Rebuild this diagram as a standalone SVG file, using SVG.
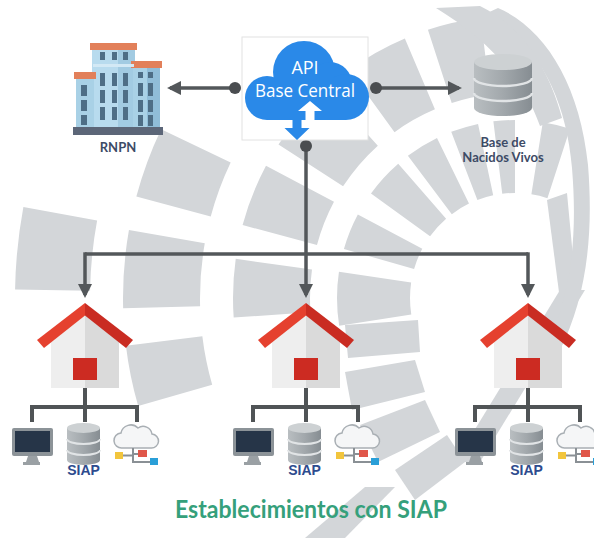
<svg xmlns="http://www.w3.org/2000/svg" xmlns:xlink="http://www.w3.org/1999/xlink" width="594" height="538" viewBox="0 0 594 538">
  <style>
    .bg { fill: #d3d6d9; }
    .ring { fill: none; stroke: #d3d6d9; }
    .link { fill: none; stroke: #53575a; stroke-width: 3.5; }
    .dot { fill: #4a4d50; }
    .branch { fill: none; stroke: #505456; stroke-width: 4; }
    .net { fill: none; stroke: #8a9095; stroke-width: 2; }
    .label { font-family: Lato, 'Open Sans', sans-serif; font-weight: bold; fill: #3d4b66; text-anchor: middle; }
    .siap { font-family: 'Liberation Sans', Arial, sans-serif; font-weight: bold; font-size: 14px; fill: #2d4b8e; text-anchor: middle; }
    .win { fill: #4e6e86; }
    .cap { fill: #e2805a; }
  </style>
  <defs>
    <marker id="arrow" viewBox="0 0 10 10" refX="7.9" refY="5" markerWidth="14" markerHeight="14" markerUnits="userSpaceOnUse" orient="auto">
      <path d="M0,0 L10,5 L0,10 Z" fill="#53575a"/>
    </marker>
    <linearGradient id="drum" x1="0" y1="0" x2="1" y2="0">
      <stop offset="0" stop-color="#b9bec1"/>
      <stop offset="0.5" stop-color="#a2a8ac"/>
      <stop offset="1" stop-color="#868d92"/>
    </linearGradient>

    <!-- one health facility: house, branch lines and its three devices (origin = roof apex) -->
    <g id="facility">
      <polygon points="-34,38 0,10 0,85 -34,85" fill="#eeeeee"/>
      <polygon points="0,10 34,38 34,85 0,85" fill="#dadada"/>
      <polygon points="0,0 -48,37 -41,45 0,12.5" fill="#e5412f"/>
      <polygon points="0,0 48,37 41,45 0,12.5" fill="#c92c22"/>
      <rect x="-12" y="55" width="24" height="22" fill="#cc2b22"/>
      <path class="branch" d="M0,85 V119 M-53,119 V104 H52 V119"/>
      <!-- monitor -->
      <rect x="-73" y="125" width="41" height="28" rx="2" fill="#8c9398"/>
      <rect x="-70" y="128" width="35" height="21" fill="#263548"/>
      <polygon points="-57,153 -48,153 -46,159 -59,159" fill="#9aa0a4"/>
      <rect x="-62" y="159" width="17" height="3" fill="#9aa0a4"/>
      <!-- database -->
      <path d="M-18,125 V157 A16.5,5 0 0 0 15,157 V125 Z" fill="url(#drum)"/>
      <ellipse cx="-1.5" cy="125" rx="16.5" ry="5" fill="#cdd1d3"/>
      <path d="M-18,136 A16.5,5 0 0 0 15,136 M-18,147 A16.5,5 0 0 0 15,147" fill="none" stroke="#e1e4e6" stroke-width="2"/>
      <text class="siap" x="-1.5" y="172">SIAP</text>
      <!-- cloud service -->
      <path d="M37,145 H66 A7,7 0 0 0 67,131 A9,9 0 0 0 53,125 A10,10 0 0 0 36,130 A7.5,7.5 0 0 0 37,145 Z" fill="#f5f6f7" stroke="#a9afb4" stroke-width="1.5"/>
      <path class="net" d="M48,145 V159 H66 M48,152.5 H37 M48,151 H54"/>
      <rect x="30" y="149" width="8" height="7" fill="#f2c53d"/>
      <rect x="53" y="147" width="9" height="7" fill="#e0574a"/>
      <rect x="65" y="155" width="8" height="7" fill="#2a9fd8"/>
    </g>
  </defs>

  <rect width="594" height="538" fill="#ffffff"/>

  <!-- decorative sunburst in the background -->
  <g id="backdrop">
    <circle class="ring" cx="515" cy="298" r="141.5" stroke-width="73" pathLength="360" stroke-dasharray="0 171 17.5 7.5 12 8 13 4 11 5 9 5 7 9 9 72"/>
    <circle class="ring" cx="515" cy="298" r="243.5" stroke-width="77" pathLength="360" stroke-dasharray="0 176 12 7 13 5 15 6 13 5 11 97"/>
    <circle class="ring" cx="515" cy="298" r="353.5" stroke-width="77" pathLength="360" stroke-dasharray="0 164 9 5.5 11.5 5 10.5 154.5"/>
    <circle class="ring" cx="515" cy="298" r="462.5" stroke-width="75" pathLength="360" stroke-dasharray="0 181 9.5 169.5"/>
    <polygon class="bg" points="345,325 418,320 420,352 348,358"/>
    <polygon class="bg" points="345,372 415,360 425,392 352,410"/>
    <polygon class="bg" points="360,425 425,400 440,432 378,462"/>
    <polygon class="bg" points="395,470 447,435 465,462 415,500"/>
    <polygon class="bg" points="365,487 395,487 345,538 305,538"/>
    <polygon class="bg" points="547,200 567,193 577,300 560,300"/>
    <polygon class="bg" points="560,290 585,290 480,462 455,462"/>
    <path class="bg" d="M498,8 C545,28 580,85 588,165 C594,240 585,300 560,350 L548,343 C570,295 578,240 572,168 C566,95 535,40 485,14 Z"/>
    <path class="bg" d="M436,8 L480,6 C520,25 548,65 562,118 L540,126 C522,75 485,38 436,8 Z"/>
  </g>

  <!-- links between the central API and the other nodes -->
  <g id="connectors">
    <path class="link" d="M235,88 H170" marker-end="url(#arrow)"/>
    <path class="link" d="M376,88 H459" marker-end="url(#arrow)"/>
    <path class="link" d="M306,146 V254"/>
    <path class="link" d="M85,254 H528"/>
    <path class="link" d="M85,252.3 V295" marker-end="url(#arrow)"/>
    <path class="link" d="M306,254 V295" marker-end="url(#arrow)"/>
    <path class="link" d="M528,252.3 V295" marker-end="url(#arrow)"/>
    <circle class="dot" cx="235" cy="88" r="6"/>
    <circle class="dot" cx="376" cy="88" r="6"/>
    <circle class="dot" cx="306" cy="146" r="6"/>
  </g>

  <g id="api">
    <rect x="242" y="37" width="126" height="103" fill="#ffffff" stroke="#e2e2e2" stroke-width="1"/>
    <g fill="#2a89e8">
      <circle cx="267" cy="98" r="22"/>
      <circle cx="304" cy="72" r="31"/>
      <circle cx="330" cy="84" r="22"/>
      <circle cx="346" cy="97" r="23"/>
      <rect x="267" y="82" width="79" height="38"/>
    </g>
    <text x="305" y="74" font-family="'Open Sans', Lato, sans-serif" font-size="18" fill="#ffffff" text-anchor="middle">API</text>
    <text x="305" y="97" font-family="'Open Sans', Lato, sans-serif" font-size="17.5" fill="#ffffff" text-anchor="middle" textLength="100" lengthAdjust="spacingAndGlyphs">Base Central</text>
    <!-- sync arrows -->
    <path d="M310,101 L322,111 L314.5,111 L314.5,121 L305.5,121 L305.5,111 L298,111 Z" fill="#ffffff"/>
    <path d="M292.5,120 H301.5 V128 H309.5 L297,140 L284.5,128 H292.5 Z" fill="#2a89e8"/>
  </g>

  <g id="rnpn">
    <rect x="92" y="49" width="43" height="79" fill="#b8dbee"/>
    <rect x="118" y="49" width="17" height="79" fill="#a2cbe2"/>
    <rect x="76" y="78" width="18" height="50" fill="#a9d1e6"/>
    <rect x="133" y="66" width="27" height="62" fill="#a9d1e6"/>
    <rect x="147" y="66" width="13" height="62" fill="#90bdd8"/>
    <rect class="cap" x="90" y="43" width="47" height="7"/>
    <rect class="cap" x="74" y="72" width="22" height="7"/>
    <rect class="cap" x="131" y="61" width="31" height="7"/>
    <rect x="93" y="64" width="41" height="3" fill="#d3e9f5"/>
    <g class="win">
      <rect x="100" y="52" width="5" height="8"/><rect x="112" y="52" width="5" height="8"/><rect x="123" y="52" width="5" height="8"/>
      <rect x="100" y="73" width="5" height="13"/><rect x="112" y="73" width="5" height="13"/><rect x="123" y="73" width="5" height="13"/>
      <rect x="100" y="90" width="5" height="13"/><rect x="112" y="90" width="5" height="13"/><rect x="123" y="90" width="5" height="13"/>
      <rect x="100" y="107" width="5" height="13"/><rect x="112" y="107" width="5" height="13"/><rect x="123" y="107" width="5" height="13"/>
      <rect x="81" y="85" width="6" height="11"/><rect x="81" y="100" width="6" height="11"/><rect x="81" y="115" width="6" height="10"/>
      <rect x="138" y="72" width="5" height="6"/><rect x="148" y="72" width="5" height="6"/>
      <rect x="138" y="83" width="5" height="13"/><rect x="148" y="83" width="5" height="13"/>
      <rect x="138" y="100" width="5" height="12"/><rect x="148" y="100" width="5" height="12"/>
      <rect x="138" y="115" width="5" height="11"/><rect x="148" y="115" width="5" height="11"/>
    </g>
    <rect x="73" y="127" width="90" height="8" fill="#5c6678"/>
    <text class="label" x="118" y="152" font-size="13">RNPN</text>
  </g>

  <g id="nacidos-vivos">
    <path d="M474,62 V108 A29,8 0 0 0 532,108 V62 Z" fill="url(#drum)"/>
    <ellipse cx="503" cy="62" rx="29" ry="8" fill="#cdd1d3"/>
    <path d="M474,78 A29,8 0 0 0 532,78 M474,93 A29,8 0 0 0 532,93" fill="none" stroke="#e1e4e6" stroke-width="2.5"/>
    <text class="label" x="503" y="147" font-size="13">Base de</text>
    <text class="label" x="503" y="162" font-size="13">Nacidos Vivos</text>
  </g>

  <g id="establecimiento-1" transform="translate(85,303)"><use xlink:href="#facility"/></g>
  <g id="establecimiento-2" transform="translate(306,303)"><use xlink:href="#facility"/></g>
  <g id="establecimiento-3" transform="translate(528,303)"><use xlink:href="#facility"/></g>

  <text id="titulo" x="311" y="518" font-family="Lato, 'Open Sans', sans-serif" font-weight="bold" font-size="24" fill="#35a07b" text-anchor="middle" textLength="272" lengthAdjust="spacingAndGlyphs">Establecimientos con SIAP</text>
</svg>
